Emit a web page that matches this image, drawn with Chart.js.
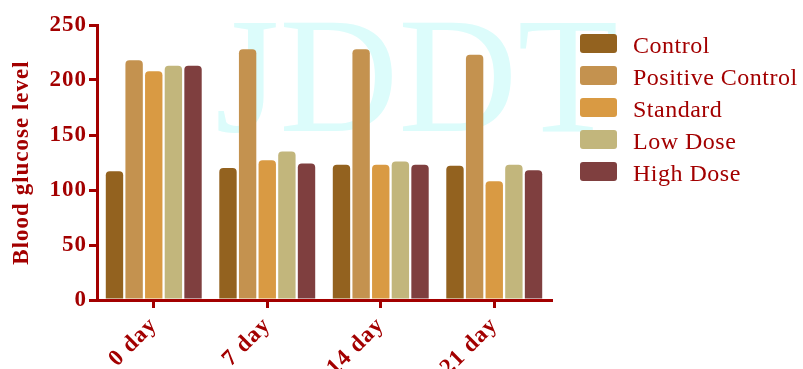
<!DOCTYPE html>
<html>
<head>
<meta charset="utf-8">
<script src="https://cdn.jsdelivr.net/npm/chart.js@4.4.1/dist/chart.umd.min.js"></script>
<style>
  html, body { margin: 0; padding: 0; background: #fff; }
  #wrap { width: 803px; height: 369px; }
</style>
</head>
<body>
<div id="wrap"><canvas id="myChart"></canvas></div>
<script>
const ctx = document.getElementById('myChart');

// data
let days = ["0 day", "7 day", "14 day", "21 day"]
let control = [117, 120, 123, 122]
let positiveControl = [218, 228, 228, 223]
let standard = [208, 127, 123, 108]
let lowDose = [213, 135, 126, 123]
let highDose = [213, 124, 123, 118]
let yTicks = [0, 50, 100, 150, 200, 250]

let red = '#a30000'
let serif = "'Liberation Serif', 'Times New Roman', serif"

// JDDT watermark behind everything, then loosen the letters for the axis text
const watermark = {
  id: 'watermark',
  beforeDraw(chart) {
    let c = chart.ctx
    c.save()
    c.letterSpacing = '0px'
    c.fillStyle = '#dcfcfb'
    c.font = '165px ' + serif
    c.textBaseline = 'alphabetic'
    c.fillText('JDDT', 215, 131)
    c.restore()
    c.letterSpacing = '1px'
  }
}

// legend on the right, drawn from the datasets
const sideLegend = {
  id: 'sideLegend',
  afterDraw(chart) {
    let c = chart.ctx
    c.save()
    c.letterSpacing = '0.5px'
    chart.data.datasets.forEach((ds, i) => {
      let top = 34 + i * 32
      c.fillStyle = ds.backgroundColor
      c.beginPath()
      c.roundRect(580, top, 37, 19, 3)
      c.fill()
      c.fillStyle = red
      c.font = '24px ' + serif
      c.textBaseline = 'alphabetic'
      c.fillText(ds.label, 633, top + 19)
    })
    c.restore()
    c.letterSpacing = '0px'
  }
}

let bar = (label, data, color) => ({
  label: label,
  data: data,
  backgroundColor: color,
  borderWidth: 0,
  borderRadius: { topLeft: 4, topRight: 4 },
  borderSkipped: 'bottom',
  barPercentage: 0.885,
  categoryPercentage: 0.865
})

new Chart(ctx, {
  type: 'bar',
  data: {
    labels: days,
    datasets: [
      bar('Control', control, '#93621f'),
      bar('Positive Control', positiveControl, '#c4924f'),
      bar('Standard', standard, '#d99a43'),
      bar('Low Dose', lowDose, '#c2b67c'),
      bar('High Dose', highDose, '#7f3f3f')
    ]
  },
  plugins: [watermark, sideLegend],
  options: {
    responsive: true,
    maintainAspectRatio: false,
    animation: false,
    layout: { padding: { top: 25, right: 252, bottom: 0, left: 0 } },
    plugins: {
      legend: { display: false },
      tooltip: { enabled: false }
    },
    scales: {
      x: {
        grid: {
          offset: false,
          drawOnChartArea: false,
          drawTicks: true,
          tickLength: 8,
          color: red,
          lineWidth: 3
        },
        border: { display: true, color: red, width: 3 },
        ticks: {
          color: red,
          font: { family: serif, size: 23, weight: 'bold' },
          minRotation: 45,
          maxRotation: 45,
          padding: 4
        },
        afterFit(scale) { scale.height = 69 }
      },
      y: {
        min: 0,
        max: 250,
        afterBuildTicks(scale) { scale.ticks = yTicks.map(v => ({ value: v })) },
        grid: {
          drawOnChartArea: false,
          drawTicks: true,
          tickLength: 8,
          color: red,
          lineWidth: 3
        },
        border: { display: true, color: red, width: 3 },
        ticks: {
          color: red,
          font: { family: serif, size: 23, weight: 'bold' },
          padding: 2
        },
        title: {
          display: true,
          text: 'Blood glucose level',
          color: red,
          font: { family: serif, size: 23, weight: 'bold' },
          padding: { top: 8, bottom: 0 }
        },
        afterFit(scale) { scale.width = 97 }
      }
    }
  }
});
</script>
</body>
</html>
